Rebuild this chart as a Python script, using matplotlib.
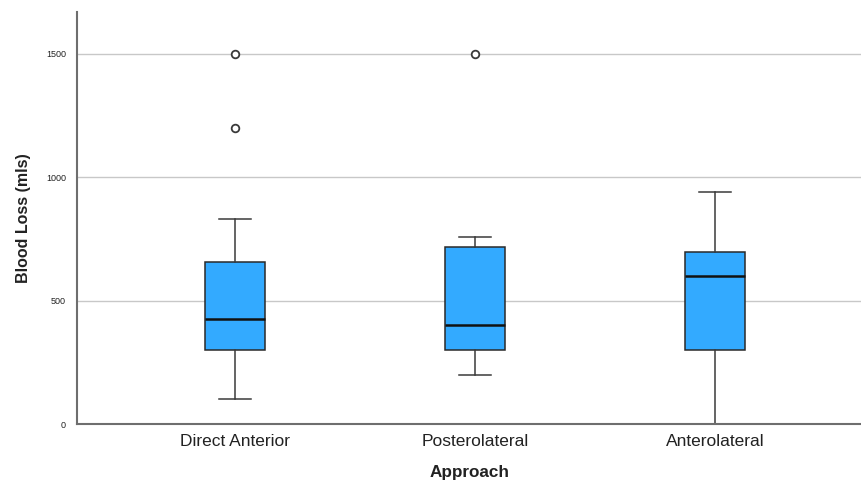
import matplotlib.pyplot as plt

plt.rcParams["font.family"] = ["Liberation Sans", "DejaVu Sans"]

approaches = ["Direct Anterior", "Posterolateral", "Anterolateral"]
whisker_low = [100, 200, 0]
q1 = [300, 300, 300]
median = [425, 400, 600]
q3 = [657, 718, 697]
whisker_high = [830, 760, 940]
outliers = [[1500, 1200], [1500], []]

stats = []
for i in range(len(approaches)):
    stats.append({
        "label": approaches[i],
        "whislo": whisker_low[i],
        "q1": q1[i],
        "med": median[i],
        "q3": q3[i],
        "whishi": whisker_high[i],
        "fliers": outliers[i],
    })

fig = plt.figure(figsize=(8.62, 4.84), dpi=100)
ax = fig.add_axes([77 / 862, 1 - 424 / 484, 1 - 77 / 862, (424 - 12) / 484])

ax.yaxis.grid(True, color="#c8c8c8", linewidth=1)
ax.set_axisbelow(True)

ax.bxp(stats, positions=[0, 1, 2], widths=0.246, capwidths=0.13,
       patch_artist=True, showfliers=True,
       boxprops=dict(facecolor="#33aaff", edgecolor="#2a2a2a", linewidth=1.1),
       medianprops=dict(color="#111111", linewidth=1.8),
       whiskerprops=dict(color="#3a3a3a", linewidth=1.1),
       capprops=dict(color="#3a3a3a", linewidth=1.1),
       flierprops=dict(marker="o", markerfacecolor="white",
                       markeredgecolor="#3a3a3a", markersize=5.5,
                       markeredgewidth=1.3))

ax.set_xlim(-158 / 240, 2 + 147 / 240)
ax.set_ylim(0, 1670)
ax.set_yticks([0, 500, 1000, 1500])
ax.set_yticklabels(["0", "500", "1000", "1500"], fontsize=6.5, color="#222222")
ax.set_xticks([0, 1, 2])
ax.set_xticklabels(approaches, fontsize=12.5, color="#222222")
ax.tick_params(axis="both", length=0)
ax.tick_params(axis="y", pad=8)
ax.tick_params(axis="x", pad=7)

for side in ["top", "right"]:
    ax.spines[side].set_visible(False)
ax.spines["left"].set_color("#6e6e6e")
ax.spines["left"].set_linewidth(1.5)
ax.spines["bottom"].set_color("#6e6e6e")
ax.spines["bottom"].set_linewidth(1.5)

ax.set_ylabel("Blood Loss (mls)", fontsize=11.5, fontweight="bold", color="#222222", labelpad=11)
ax.set_xlabel("Approach", fontsize=12.3, fontweight="bold", color="#222222", labelpad=12)

fig.savefig("out.png", dpi=100)
